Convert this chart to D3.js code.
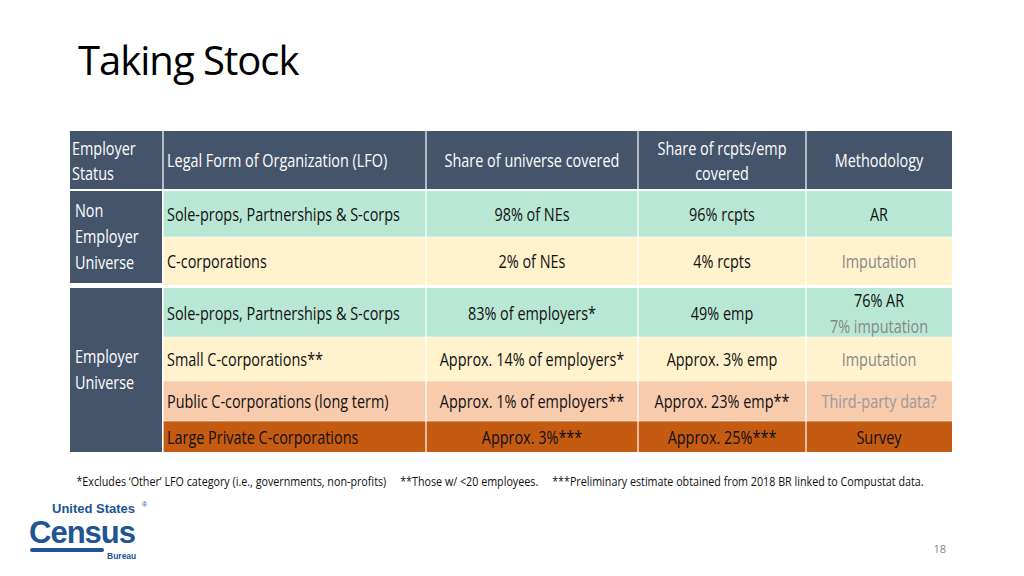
<!DOCTYPE html>
<html>
<head>
<meta charset="utf-8">
<script src="https://cdn.jsdelivr.net/npm/d3@7"></script>
<style>
  body { margin: 0; background: #fff; }
  svg { font-family: "Open Sans", sans-serif; }
</style>
</head>
<body>
<svg id="chart" width="1024" height="576"></svg>
<script>
// Datos de la tabla
const headers = ['Employer\nStatus', 'Legal Form of Organization (LFO)', 'Share of universe covered', 'Share of rcpts/emp\ncovered', 'Methodology'];
const groups = [
    { name: 'Non\nEmployer\nUniverse', rows: [0, 1] },
    { name: 'Employer\nUniverse', rows: [2, 3, 4, 5] }
];
const lfo = ['Sole-props, Partnerships & S-corps', 'C-corporations', 'Sole-props, Partnerships & S-corps', 'Small C-corporations**', 'Public C-corporations (long term)', 'Large Private C-corporations'];
const universe = ['98% of NEs', '2% of NEs', '83% of employers*', 'Approx. 14% of employers*', 'Approx. 1% of employers**', 'Approx. 3%***'];
const rcpts = ['96% rcpts', '4% rcpts', '49% emp', 'Approx. 3% emp', 'Approx. 23% emp**', 'Approx. 25%***'];
const method = [['AR'], ['Imputation'], ['76% AR', '7% imputation'], ['Imputation'], ['Third-party data?'], ['Survey']];
const rowTipo = ['green', 'yellow', 'green', 'yellow', 'salmon', 'orange'];
const footnote = '*Excludes \u2018Other\u2019 LFO category (i.e., governments, non-profits)     **Those w/ <20 employees.     ***Preliminary estimate obtained from 2018 BR linked to Compustat data.';

// Layout
const colEdges = [70, 163, 426, 638, 806, 952];
const rowTop = [191, 237, 288, 337, 381, 421];
const rowBot = [237, 285, 337, 381, 421, 452];
const headTop = 131, headBot = 189;
const sx = 0.76;   // estrecha la fuente (imita Calibri)

const colores = d3.scaleOrdinal()
    .domain(['green', 'yellow', 'salmon', 'orange'])
    .range(['#b9e7d5', '#fff2cc', '#f8cbad', '#c55a11']);
const oscuro = '#44546a';

const svg = d3.select('#chart');

svg.append('text').attr('x', 78).attr('y', 75)
    .style('font-size', '40px').style('letter-spacing', '-1px').attr('fill', '#000')
    .text('Taking Stock');

function multiText(g, lines, x, yc, anchor, size, lh, fills) {
    const y0 = yc - (lines.length - 1) * lh / 2;
    lines.forEach((l, i) => {
        g.append('text').attr('x', x / sx).attr('y', y0 + i * lh)
            .attr('transform', `scale(${sx},1)`)
            .attr('dominant-baseline', 'central').attr('text-anchor', anchor)
            .style('font-size', size + 'px').attr('fill', fills[i] || fills[0]).text(l);
    });
}

const g = svg.append('g');

// Cabecera
g.append('rect').attr('x', colEdges[0]).attr('y', headTop).attr('width', colEdges[5] - colEdges[0]).attr('height', headBot - headTop).attr('fill', oscuro);
headers.forEach((h, i) => {
    const x = i === 0 ? colEdges[0] + 2 : (i === 1 ? colEdges[1] + 4 : (colEdges[i] + colEdges[i + 1]) / 2);
    multiText(g, h.split('\n'), x, (headTop + headBot) / 2, i < 2 ? 'start' : 'middle', 19, 25, ['#fff']);
});

// Filas
lfo.forEach((d, r) => {
    const y0 = rowTop[r], y1 = rowBot[r], yc = (y0 + y1) / 2;
    g.append('rect').attr('x', colEdges[1]).attr('y', y0).attr('width', colEdges[5] - colEdges[1]).attr('height', y1 - y0).attr('fill', colores(rowTipo[r]));
    multiText(g, [d], colEdges[1] + 4, yc, 'start', 19, 24, ['#111']);
    multiText(g, [universe[r]], (colEdges[2] + colEdges[3]) / 2, yc, 'middle', 19, 24, ['#111']);
    multiText(g, [rcpts[r]], (colEdges[3] + colEdges[4]) / 2, yc, 'middle', 19, 24, ['#111']);
    const negro = rowTipo[r] === 'orange' || method[r][0] === 'AR' || method[r].length > 1;
    const mf = method[r].length > 1 ? ['#111', '#888'] : [negro ? '#111' : (rowTipo[r] === 'salmon' ? '#9a9a9a' : '#888')];
    multiText(g, method[r], (colEdges[4] + colEdges[5]) / 2, yc, 'middle', 19, 26, mf);
});

// Separadores
colEdges.slice(1, 5).forEach(x => {
    g.append('line').attr('x1', x).attr('x2', x).attr('y1', headTop).attr('y2', 452).attr('stroke', '#fff').attr('stroke-width', 1.5).attr('opacity', 0.8);
});
[237, 337, 381, 421].forEach(y => {
    g.append('line').attr('x1', colEdges[1]).attr('x2', colEdges[5]).attr('y1', y).attr('y2', y).attr('stroke', '#fff').attr('stroke-width', 1).attr('opacity', 0.6);
});

// Grupos
groups.forEach(gr => {
    const y0 = rowTop[gr.rows[0]], y1 = rowBot[gr.rows[gr.rows.length - 1]] - (gr.rows[0] === 0 ? 2 : 0);
    g.append('rect').attr('x', colEdges[0]).attr('y', y0).attr('width', colEdges[1] - colEdges[0] - 1).attr('height', y1 - y0).attr('fill', oscuro);
    const lines = gr.name.split('\n');
    multiText(g, lines, colEdges[0] + 5, lines.length > 2 ? (y0 + y1) / 2 - 1 : 369, 'start', 19, 26, ['#fff']);
});

svg.append('text').attr('x', 500 / 0.86).attr('y', 486).attr('text-anchor', 'middle')
    .attr('transform', 'scale(0.86,1)')
    .style('font-size', '12.5px').attr('fill', '#111').attr('xml:space', 'preserve').text(footnote);

// Logo
const logo = svg.append('g').style('font-family', '"Liberation Sans", sans-serif').attr('fill', '#205493');
logo.append('text').attr('x', 52).attr('y', 513).style('font-size', '13px').style('font-weight', 'bold').text('United States');
logo.append('text').attr('x', 142).attr('y', 507).style('font-size', '7px').text('®');
logo.append('text').attr('x', 29).attr('y', 543).style('font-size', '31px').style('font-weight', 'bold').style('letter-spacing', '-1px').text('Census');
logo.append('rect').attr('x', 30).attr('y', 548).attr('width', 74).attr('height', 4).attr('rx', 2);
logo.append('text').attr('x', 107).attr('y', 559).style('font-size', '8.5px').style('font-weight', 'bold').text('Bureau');

svg.append('text').attr('x', 946).attr('y', 553).attr('text-anchor', 'end').style('font-size', '11px').attr('fill', '#888').text('18');
</script>
</body>
</html>
